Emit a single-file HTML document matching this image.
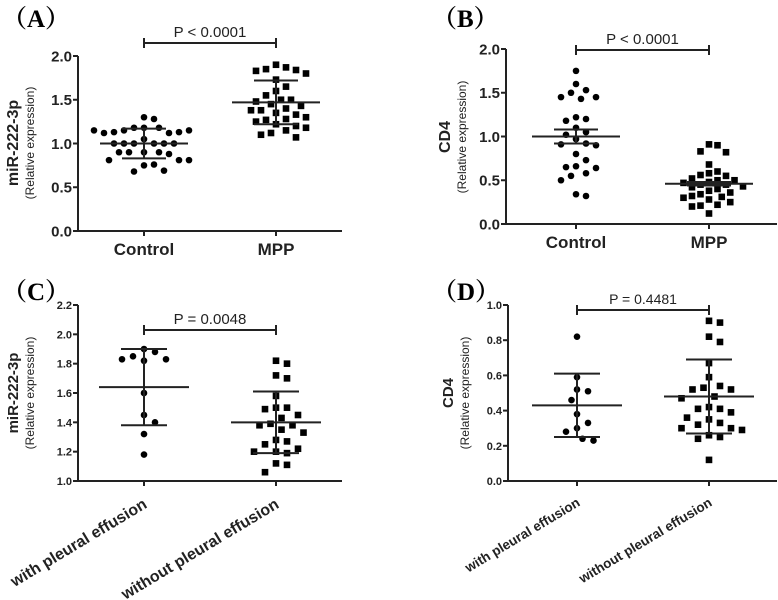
<!DOCTYPE html>
<html><head><meta charset="utf-8">
<style>
html,body{margin:0;padding:0;background:#fff;}
svg{display:block;font-family:"Liberation Sans",sans-serif;}
.pl{font-family:"Liberation Serif","Noto Serif CJK SC",serif;font-weight:bold;font-size:25px;}
</style></head>
<body>
<svg id="fig" width="778" height="600" viewBox="0 0 778 600"></svg>
<script>
// ---------- Data ----------
const aCategories = ["Control","MPP"];
const aControl = [1.30,1.28,1.18,1.18,1.18,1.15,1.12,1.13,1.13,1.12,1.15,1.15,1.05,1.0,1.0,1.0,1.0,1.0,1.0,0.9,0.9,0.9,0.88,0.9,0.81,0.81,0.81,0.75,0.76,0.68,0.69];
const aMPP = [1.90,1.87,1.85,1.84,1.83,1.80,1.73,1.65,1.60,1.55,1.50,1.50,1.48,1.45,1.43,1.40,1.38,1.38,1.35,1.33,1.30,1.28,1.27,1.25,1.22,1.20,1.18,1.15,1.12,1.10,1.07];
const aMean = [1.0,1.47];
const aErr = [0.17,0.25];
const aTicks = [0,0.5,1.0,1.5,2.0];

const bCategories = ["Control","MPP"];
const bControl = [1.75,1.60,1.53,1.50,1.45,1.45,1.43,1.22,1.20,1.18,1.10,1.05,1.02,0.97,0.92,0.91,0.90,0.80,0.73,0.66,0.65,0.64,0.58,0.55,0.50,0.34,0.32];
const bMPP = [0.91,0.90,0.83,0.82,0.68,0.60,0.58,0.56,0.55,0.52,0.50,0.50,0.48,0.47,0.45,0.45,0.43,0.42,0.40,0.38,0.36,0.34,0.32,0.31,0.30,0.28,0.25,0.22,0.21,0.20,0.12];
const bMean = [1.0,0.46];
const bErr = [0.08,0.02];
const bTicks = [0,0.5,1.0,1.5,2.0];

const cCategories = ["with pleural effusion","without pleural effusion"];
const cWith = [1.90,1.88,1.85,1.83,1.83,1.82,1.60,1.45,1.40,1.32,1.18];
const cWithout = [1.82,1.80,1.72,1.70,1.58,1.50,1.50,1.49,1.45,1.43,1.39,1.38,1.38,1.35,1.33,1.28,1.27,1.25,1.22,1.20,1.20,1.19,1.12,1.11,1.06];
const cMean = [1.64,1.40];
const cErr = [0.26,0.21];
const cTicks = [1.0,1.2,1.4,1.6,1.8,2.0,2.2];

const dCategories = ["with pleural effusion","without pleural effusion"];
const dWith = [0.82,0.59,0.52,0.51,0.46,0.38,0.33,0.30,0.28,0.24,0.23];
const dWithout = [0.91,0.90,0.82,0.79,0.67,0.59,0.54,0.53,0.52,0.52,0.48,0.47,0.42,0.41,0.41,0.39,0.36,0.35,0.33,0.32,0.30,0.30,0.29,0.26,0.25,0.24,0.12];
const dMean = [0.43,0.48];
const dErr = [0.18,0.21];
const dTicks = [0,0.2,0.4,0.6,0.8,1.0];

// ---------- Drawing ----------
const NS="http://www.w3.org/2000/svg";
const svg=document.getElementById('fig');
function mk(tag,attrs,parent,text){
  const e=document.createElementNS(NS,tag);
  for(const k in attrs) e.setAttribute(k,attrs[k]);
  if(text!==undefined) e.textContent=text;
  (parent||svg).appendChild(e);
  return e;
}
function swarm(vals,yScale,d){
  const placed=[];const offs=[];
  vals.forEach(v=>{
    const y=yScale(v);
    let off=0;
    const cands=[0];
    for(let i=1;i<14;i++){cands.push(i*d/2);cands.push(-i*d/2);}
    for(const c of cands){
      if(placed.every(p=>Math.hypot(p[0]-c,p[1]-y)>=d)){off=c;break;}
    }
    placed.push([off,y]);offs.push(off);
  });
  return offs;
}
function panel(cfg){
  const g=mk('g',{});
  
  
  const y=v=>cfg.y0+(v-cfg.ymin)/(cfg.ymax-cfg.ymin)*(cfg.y1-cfg.y0);
  const x=i=>cfg.xs[i];
  const pl=mk('text',{x:cfg.lx,y:cfg.ly,class:'pl'},g,cfg.label);
  
  
  const ya=mk('line',{x1:cfg.ax,y1:y(cfg.ymax),x2:cfg.ax,y2:cfg.y0+1,stroke:'#222','stroke-width':2},g);
  
  
  const xa=mk('line',{x1:cfg.ax-4,y1:cfg.y0,x2:cfg.axEnd,y2:cfg.y0,stroke:'#222','stroke-width':2},g);
  
  
  cfg.ticks.forEach(t=>{
    mk('line',{x1:cfg.ax-5,y1:y(t),x2:cfg.ax,y2:y(t),stroke:'#222','stroke-width':2},g);
    const tl=mk('text',{x:cfg.ax-6,y:y(t)+cfg.tfs*0.36,'text-anchor':'end','font-size':cfg.tfs,'font-weight':'bold',fill:'#222'},g,t.toFixed(1));
    
    
  });
  cfg.cats.forEach((c,i)=>{
    mk('line',{x1:x(i),y1:cfg.y0,x2:x(i),y2:cfg.y0+5,stroke:'#222','stroke-width':2},g);
    let t;
    if(cfg.rot){
      const tx=x(i)+4, ty=cfg.y0+cfg.rotDy;
      t=mk('text',{x:tx,y:ty,'text-anchor':'end','font-size':cfg.cfs,'font-weight':'bold',fill:'#222',transform:`rotate(-31 ${tx} ${ty})`},g,c);
    } else {
      t=mk('text',{x:x(i),y:cfg.y0+24,'text-anchor':'middle','font-size':cfg.cfs,'font-weight':'bold',fill:'#222'},g,c);
    }
    
    
  });
  const yt=mk('text',{x:cfg.ytx,y:cfg.ymid,'text-anchor':'middle','font-size':cfg.yfs,'font-weight':'bold',fill:'#222',transform:`rotate(-90 ${cfg.ytx} ${cfg.ymid})`},g,cfg.ytitle);
  
  
  const ys=mk('text',{x:cfg.ytx+16,y:cfg.ymid,'text-anchor':'middle','font-size':cfg.sfs,fill:'#222',transform:`rotate(-90 ${cfg.ytx+16} ${cfg.ymid})`},g,'(Relative expression)');
  
  
  const x0=x(0),x1=x(1),sy=cfg.sigY;
  const sb=mk('path',{d:`M${x0} ${sy-5}V${sy+5}M${x0} ${sy}H${x1}M${x1} ${sy-5}V${sy+5}`,stroke:'#222','stroke-width':2,fill:'none'},g);
  
  
  const st=mk('text',{x:(x0+x1)/2,y:sy-6,'text-anchor':'middle','font-size':cfg.pfs,fill:'#222'},g,cfg.ptext);
  
  
  cfg.series.forEach((vals,i)=>{
    const offs=swarm(vals,y,cfg.d[i]);
    vals.forEach((v,j)=>{
      let m;
      if(i===0){
        m=mk('circle',{cx:x(i)+offs[j],cy:y(v),r:cfg.r,fill:'#000'},g);
        
      } else {
        m=mk('rect',{x:x(i)+offs[j]-cfg.r,y:y(v)-cfg.r,width:cfg.r*2,height:cfg.r*2,fill:'#000'},g);
        
      }
      
    });
    const mean=cfg.means[i],e=cfg.errs[i];
    const ml=mk('line',{x1:x(i)-cfg.mw,y1:y(mean),x2:x(i)+cfg.mw,y2:y(mean),stroke:'#222','stroke-width':2},g);
    
    
    const eb=mk('path',{d:`M${x(i)} ${y(mean+e)}V${y(mean-e)}M${x(i)-cfg.cw} ${y(mean+e)}H${x(i)+cfg.cw}M${x(i)-cfg.cw} ${y(mean-e)}H${x(i)+cfg.cw}`,stroke:'#222','stroke-width':2,fill:'none'},g);
    
    
  });
}
panel({name:'panel-a',label:'（A）',lx:2,ly:27,ax:78,axEnd:342,y0:231,y1:56,ymin:0,ymax:2,xs:[144,276],ticks:aTicks,tfs:15,cats:aCategories,cfs:17,rot:false,
  ytitle:'miR-222-3p',ytx:18,ymid:143,yfs:16,sfs:12,sigY:43,ptext:'P < 0.0001',pfs:15,series:[aControl,aMPP],means:aMean,errs:aErr,d:[10,10],r:3.3,mw:44,cw:22});
panel({name:'panel-b',label:'（B）',lx:432,ly:27,ax:506,axEnd:777,y0:224,y1:49,ymin:0,ymax:2,xs:[576,709],ticks:bTicks,tfs:15,cats:bCategories,cfs:17,rot:false,
  ytitle:'CD4',ytx:450,ymid:137,yfs:16,sfs:12,sigY:50,ptext:'P < 0.0001',pfs:15,series:[bControl,bMPP],means:bMean,errs:bErr,d:[10,8.5],r:3.3,mw:44,cw:22});
panel({name:'panel-c',label:'（C）',lx:2,ly:300,ax:78,axEnd:342,y0:481,y1:305,ymin:1,ymax:2.2,xs:[144,276],ticks:cTicks,tfs:11,cats:cCategories,cfs:16,rot:true,rotDy:26,
  ytitle:'miR-222-3p',ytx:18,ymid:393,yfs:15,sfs:12,sigY:330,ptext:'P = 0.0048',pfs:15,series:[cWith,cWithout],means:cMean,errs:cErr,d:[11,11],r:3.3,mw:45,cw:23});
panel({name:'panel-d',label:'（D）',lx:432,ly:300,ax:508,axEnd:777,y0:481,y1:305,ymin:0,ymax:1,xs:[577,709],ticks:dTicks,tfs:11,cats:dCategories,cfs:13.5,rot:true,rotDy:24,
  ytitle:'CD4',ytx:453,ymid:393,yfs:15,sfs:12,sigY:310,ptext:'P = 0.4481',pfs:14,series:[dWith,dWithout],means:dMean,errs:dErr,d:[11,11],r:3.3,mw:45,cw:23});
</script>
</body></html>
